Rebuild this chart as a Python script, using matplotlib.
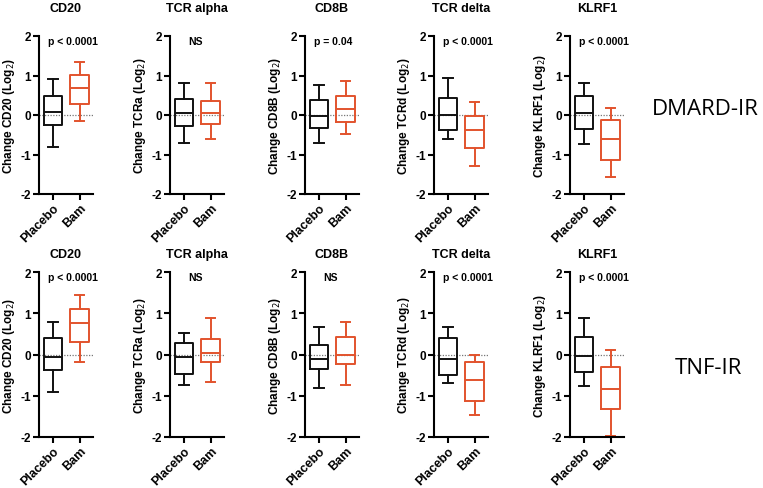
import numpy as np
import matplotlib
matplotlib.use("Agg")
import matplotlib.pyplot as plt

plt.rcParams['font.family'] = ['Liberation Sans', 'DejaVu Sans']

genes = ["CD20", "TCR alpha", "CD8B", "TCR delta", "KLRF1"]
ylabels = ["CD20", "TCRa", "CD8B", "TCRd", "KLRF1"]
groups = ["Placebo", "Bam"]
row_names = ["DMARD-IR", "TNF-IR"]
pvals = [["p < 0.0001", "NS", "p = 0.04", "p < 0.0001", "p < 0.0001"],
         ["p < 0.0001", "NS", "NS", "p < 0.0001", "p < 0.0001"]]

# box stats: (whislo, q1, median, q3, whishi)
dmard_placebo = [(-0.80, -0.25, 0.08, 0.47, 0.90),
                 (-0.72, -0.28, 0.05, 0.40, 0.80),
                 (-0.72, -0.33, -0.02, 0.37, 0.75),
                 (-0.60, -0.37, 0.00, 0.42, 0.93),
                 (-0.73, -0.35, 0.04, 0.48, 0.82)]
dmard_bam = [(-0.15, 0.27, 0.68, 1.02, 1.35),
             (-0.60, -0.24, 0.05, 0.36, 0.82),
             (-0.48, -0.17, 0.15, 0.48, 0.86),
             (-1.30, -0.83, -0.37, -0.02, 0.32),
             (-1.57, -1.13, -0.62, -0.13, 0.18)]
tnf_placebo = [(-0.90, -0.37, -0.05, 0.40, 0.78),
               (-0.73, -0.48, -0.06, 0.27, 0.53),
               (-0.80, -0.35, -0.10, 0.23, 0.66),
               (-0.70, -0.50, -0.10, 0.39, 0.66),
               (-0.77, -0.42, -0.03, 0.42, 0.88)]
tnf_bam = [(-0.18, 0.30, 0.77, 1.10, 1.45),
           (-0.67, -0.18, 0.03, 0.37, 0.88),
           (-0.74, -0.23, 0.00, 0.42, 0.79),
           (-1.47, -1.12, -0.62, -0.17, 0.00),
           (-1.97, -1.33, -0.83, -0.30, 0.10)]

data = [(dmard_placebo, dmard_bam), (tnf_placebo, tnf_bam)]
colors = ["#111111", "#E2532D"]

W, H = 763, 489
fig = plt.figure(figsize=(W / 100, H / 100), dpi=100)

lefts = [39, 170, 305, 434, 570]
rows_px = [(37, 195), (273, 438)]
title_pads = [18, 11]


def make_stat(s):
    lo, q1, med, q3, hi = s
    return dict(whislo=lo, q1=q1, med=med, q3=q3, whishi=hi, fliers=[])


for r in range(2):
    top, bot = rows_px[r]
    for c in range(5):
        ax = fig.add_axes([lefts[c] / W, 1 - bot / H, 54 / W, (bot - top) / H])
        ax.axhline(0, color="#777777", lw=0.9, ls=(0, (1, 1.2)), zorder=0)
        for g in range(2):
            st = make_stat(data[r][g][c])
            col = colors[g]
            ax.bxp([st], positions=[g + 1], widths=0.7, capwidths=0.35,
                   showfliers=False, patch_artist=False,
                   boxprops=dict(color=col, lw=1.4),
                   medianprops=dict(color=col, lw=1.4),
                   whiskerprops=dict(color=col, lw=1.4),
                   capprops=dict(color=col, lw=1.4))
        ax.set_xlim(0.48, 2.5)
        ax.set_ylim(-2, 2)
        ax.set_yticks([-2, -1, 0, 1, 2])
        ax.set_yticklabels(["-2", "-1", "0", "1", "2"], fontweight="bold", fontsize=8.5)
        ax.set_xticks([1, 2])
        ax.set_xticklabels(groups, rotation=45, ha="right", rotation_mode="anchor",
                           fontsize=9, fontweight="bold")
        for s in ["top", "right"]:
            ax.spines[s].set_visible(False)
        for s in ["left", "bottom"]:
            ax.spines[s].set_linewidth(1.5)
        ax.tick_params(width=1.5, length=4, pad=1.5)
        ax.set_title(genes[c], fontsize=9, fontweight="bold", pad=title_pads[r])
        ax.set_ylabel("Change " + ylabels[c] + " (Log$_2$)", fontsize=8.5,
                      fontweight="bold", labelpad=3)
        p = pvals[r][c]
        if p == "NS":
            ax.text(1.45, 1.88, p, ha="center", va="center", fontsize=7.5, fontweight="bold")
        else:
            ax.text(0.82, 1.88, p, ha="left", va="center", fontsize=7.5, fontweight="bold")

fig.text(705 / W, 1 - 110 / H, row_names[0], ha="center", va="center",
         fontsize=16, family=["Open Sans", "DejaVu Sans"])
fig.text(708 / W, 1 - 368 / H, row_names[1], ha="center", va="center",
         fontsize=16, family=["Open Sans", "DejaVu Sans"])

fig.savefig("out.png", dpi=100)
